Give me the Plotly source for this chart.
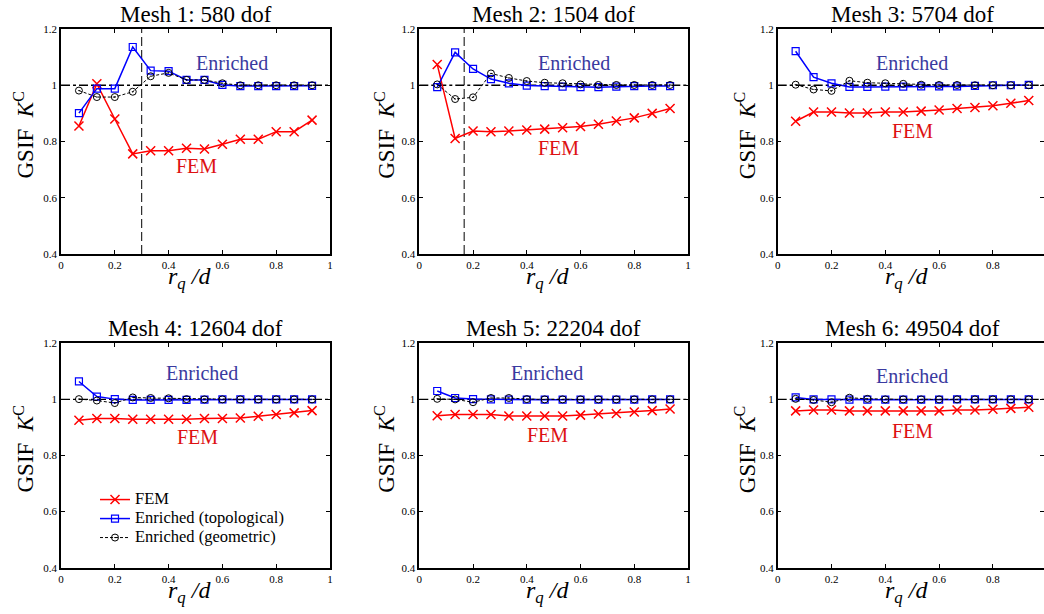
import plotly.graph_objects as go

# ---------------- data ----------------
RQ = [0.0667, 0.1333, 0.2, 0.2667, 0.3333, 0.4, 0.4667, 0.5333, 0.6, 0.6667, 0.7333, 0.8, 0.8667, 0.9333]

TITLES = ["Mesh 1: 580 dof", "Mesh 2: 1504 dof", "Mesh 3: 5704 dof",
          "Mesh 4: 12604 dof", "Mesh 5: 22204 dof", "Mesh 6: 49504 dof"]

FEM_1 = [0.855, 1.005, 0.880, 0.756, 0.767, 0.767, 0.776, 0.773, 0.790, 0.808, 0.808, 0.835, 0.835, 0.876]
TOPO_1 = [0.901, 0.988, 0.988, 1.136, 1.052, 1.050, 1.019, 1.019, 1.001, 0.997, 0.997, 0.997, 0.997, 0.998]
GEOM_1 = [0.981, 0.958, 0.958, 0.977, 1.032, 1.044, 1.019, 1.019, 1.007, 1.000, 1.000, 1.000, 1.000, 1.000]

FEM_2 = [1.074, 0.811, 0.837, 0.835, 0.837, 0.841, 0.844, 0.849, 0.853, 0.861, 0.873, 0.884, 0.900, 0.917]
TOPO_2 = [0.993, 1.117, 1.058, 1.022, 1.007, 0.999, 0.997, 0.995, 0.993, 0.993, 0.995, 0.997, 0.997, 0.997]
GEOM_2 = [1.003, 0.951, 0.957, 1.042, 1.026, 1.015, 1.009, 1.007, 1.003, 1.001, 1.001, 1.001, 1.001, 1.001]

FEM_3 = [0.872, 0.905, 0.905, 0.901, 0.901, 0.905, 0.905, 0.908, 0.912, 0.917, 0.921, 0.927, 0.936, 0.946]
TOPO_3 = [1.121, 1.029, 1.007, 0.994, 0.994, 0.995, 0.995, 0.996, 0.996, 0.996, 0.998, 1.000, 1.000, 1.001]
GEOM_3 = [1.002, 0.985, 0.980, 1.016, 1.009, 1.007, 1.005, 1.002, 1.001, 1.001, 1.000, 1.000, 1.000, 1.000]

FEM_4 = [0.926, 0.932, 0.932, 0.929, 0.929, 0.929, 0.929, 0.932, 0.932, 0.934, 0.940, 0.946, 0.952, 0.960]
TOPO_4 = [1.064, 1.010, 1.001, 0.998, 0.998, 0.998, 0.998, 0.999, 1.000, 1.000, 1.000, 1.000, 1.000, 1.000]
GEOM_4 = [1.001, 0.996, 0.987, 1.007, 1.005, 1.004, 1.001, 1.000, 1.000, 1.000, 1.000, 1.000, 1.000, 1.000]

FEM_5 = [0.942, 0.946, 0.946, 0.946, 0.941, 0.941, 0.941, 0.941, 0.944, 0.948, 0.950, 0.955, 0.960, 0.966]
TOPO_5 = [1.030, 1.005, 1.001, 1.000, 0.999, 0.999, 0.999, 0.999, 0.999, 0.999, 0.999, 0.999, 1.000, 1.000]
GEOM_5 = [1.002, 1.000, 0.990, 1.005, 1.005, 1.001, 1.000, 1.000, 1.000, 1.000, 1.000, 1.000, 1.000, 1.000]

FEM_6 = [0.959, 0.962, 0.962, 0.959, 0.959, 0.959, 0.959, 0.959, 0.959, 0.962, 0.962, 0.965, 0.968, 0.972]
TOPO_6 = [1.007, 1.000, 1.000, 0.999, 0.999, 0.999, 0.999, 0.999, 0.999, 1.000, 1.000, 1.000, 1.000, 1.000]
GEOM_6 = [1.002, 0.998, 0.990, 1.006, 1.002, 1.000, 1.000, 1.000, 1.000, 1.000, 1.000, 1.000, 1.000, 1.000]

FEM = [FEM_1, FEM_2, FEM_3, FEM_4, FEM_5, FEM_6]
TOPO = [TOPO_1, TOPO_2, TOPO_3, TOPO_4, TOPO_5, TOPO_6]
GEOM = [GEOM_1, GEOM_2, GEOM_3, GEOM_4, GEOM_5, GEOM_6]

# vertical marker lines (r_q/d) for meshes 1 and 2
VLINE = [0.3, 0.167, None, None, None, None]
REF_LEVEL = 1.0

# label positions (data coords)
ENR_LABEL = [(0.635, 1.078), (0.575, 1.078), (0.50, 1.078), (0.523, 1.093), (0.477, 1.093), (0.50, 1.085)]
FEM_LABEL = [(0.504, 0.714), (0.519, 0.777), (0.50, 0.838), (0.508, 0.867), (0.477, 0.873), (0.50, 0.888)]

YTICKS = [0.4, 0.6, 0.8, 1.0, 1.2]
YTICKTEXT = ["0.4", "0.6", "0.8", "1", "1.2"]
XTICKS = [0, 0.2, 0.4, 0.6, 0.8, 1.0]
XTICKTEXT = ["0", "0.2", "0.4", "0.6", "0.8", "1"]

SERIES_NAMES = ["FEM", "Enriched (topological)", "Enriched (geometric)"]

# ---------------- layout ----------------
W, H = 1044, 614
FONT = "Liberation Serif, Times New Roman, serif"

col_px = [(61, 330), (419.3, 688), (777.7, 1046.7)]
row_px = [(29, 254), (343.3, 567.7)]
col_xmax = [1.0, 1.0, (1044 - 777.7) / 269.0]
ytitle_off = [37, 34, 32]

fig = go.Figure()
layout = dict(
    template="none",
    width=W, height=H, margin=dict(l=0, r=0, t=0, b=0, autoexpand=False),
    paper_bgcolor="white", plot_bgcolor="white",
    font=dict(family=FONT, color="black"),
    showlegend=True,
    legend=dict(x=0.091, y=0.21, xanchor="left", yanchor="top",
                font=dict(family=FONT, size=12, color="black"),
                bgcolor="rgba(0,0,0,0)", tracegroupgap=0, itemwidth=30),
)
annotations = []
shapes = []

for i in range(6):
    r, c = divmod(i, 3)
    n = i + 1
    xa = "x" if n == 1 else f"x{n}"
    ya = "y" if n == 1 else f"y{n}"
    x0p, x1p = col_px[c]
    ytp, ybp = row_px[r]
    xdom = [x0p / W, min(1.0, x1p / W)]
    ydom = [1 - ybp / H, 1 - ytp / H]
    axis_common = dict(showline=True, linecolor="black", linewidth=1.5, mirror="ticks",
                       ticks="inside", ticklen=4, tickwidth=1, tickcolor="black",
                       showgrid=False, zeroline=False, automargin=False,
                       tickfont=dict(family=FONT, size=11, color="black"))
    layout["xaxis" if n == 1 else f"xaxis{n}"] = dict(
        domain=xdom, range=[0, col_xmax[c]], anchor=ya,
        tickvals=XTICKS, ticktext=XTICKTEXT, **axis_common)
    layout["yaxis" if n == 1 else f"yaxis{n}"] = dict(
        domain=ydom, range=[0.4, 1.2], anchor=xa,
        tickvals=YTICKS, ticktext=YTICKTEXT, **axis_common)

    show = (i == 0)
    fig.add_trace(go.Scatter(
        x=RQ, y=FEM[i], xaxis=xa, yaxis=ya, showlegend=show,
        name=f'<span style="font-size:16.5px">{SERIES_NAMES[0]}</span>',
        mode="lines+markers", line=dict(color="#ff0000", width=1.5),
        marker=dict(symbol="x-thin", size=9, line=dict(color="#ff0000", width=1.5))))
    fig.add_trace(go.Scatter(
        x=RQ, y=TOPO[i], xaxis=xa, yaxis=ya, showlegend=show,
        name=f'<span style="font-size:16.5px">{SERIES_NAMES[1]}</span>',
        mode="lines+markers", line=dict(color="#0000ff", width=1.5),
        marker=dict(symbol="square-open", size=7, color="#0000ff", line=dict(color="#0000ff", width=1.2))))
    fig.add_trace(go.Scatter(
        x=RQ, y=GEOM[i], xaxis=xa, yaxis=ya, showlegend=show,
        name=f'<span style="font-size:16.5px">{SERIES_NAMES[2]}</span>',
        mode="lines+markers", line=dict(color="black", width=1, dash="3px,2px"),
        marker=dict(symbol="circle-open-dot", size=7, color="black", line=dict(color="black", width=1))))

    # reference level line
    shapes.append(dict(type="line", xref=f"{xa} domain", yref=ya, x0=0, x1=1, y0=REF_LEVEL, y1=REF_LEVEL,
                       line=dict(color="black", width=1.3, dash="dashdot"), layer="below"))
    if VLINE[i] is not None:
        shapes.append(dict(type="line", xref=xa, yref=f"{ya} domain", x0=VLINE[i], x1=VLINE[i], y0=0, y1=1,
                           line=dict(color="black", width=1, dash="9px,4px"), layer="below"))

    # subplot title
    annotations.append(dict(text=TITLES[i], xref="paper", yref="paper",
                            x=(x0p + 269 / 2) / W, y=1 - (ytp - 15) / H,
                            xanchor="center", yanchor="middle", showarrow=False,
                            font=dict(family=FONT, size=23, color="black")))
    # axis titles
    annotations.append(dict(text="GSIF  <i>K</i><sup>C</sup>", xref="paper", yref="paper",
                            x=(x0p - ytitle_off[c]) / W, y=1 - ((ytp + ybp) / 2 - 6) / H,
                            xanchor="center", yanchor="middle", textangle=-90, showarrow=False,
                            font=dict(family=FONT, size=23, color="black")))
    annotations.append(dict(text="<i>r</i><sub><i>q</i></sub> <i>/d</i>", xref="paper", yref="paper",
                            x=(x0p + 269 / 2 - 6) / W, y=1 - (ybp + 24) / H,
                            xanchor="center", yanchor="middle", showarrow=False,
                            font=dict(family=FONT, size=24, color="black")))
    ex, ey = ENR_LABEL[i]
    annotations.append(dict(text="Enriched", xref=xa, yref=ya, x=ex, y=ey, showarrow=False,
                            xanchor="center", yanchor="middle",
                            font=dict(family=FONT, size=20, color="#3a3aa0")))
    fx, fy = FEM_LABEL[i]
    annotations.append(dict(text="FEM", xref=xa, yref=ya, x=fx, y=fy, showarrow=False,
                            xanchor="center", yanchor="middle",
                            font=dict(family=FONT, size=20, color="#dd1111")))

layout["annotations"] = annotations
layout["shapes"] = shapes
fig.update_layout(**layout)
fig.write_html("out.html", config={"displayModeBar": False},
               post_script="document.body.style.margin='0';document.body.style.overflow='hidden';")
